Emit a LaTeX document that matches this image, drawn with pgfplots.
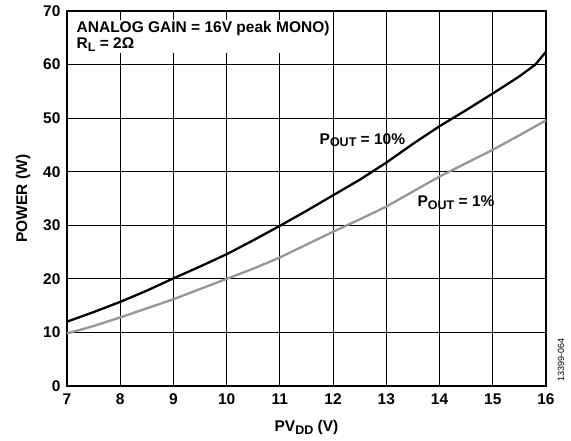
\documentclass[border=0pt]{standalone}
\usepackage{fontspec}
\setmainfont{Liberation Sans}
\usepackage{pgfplots}
\pgfplotsset{compat=1.18}
\definecolor{curvegray}{RGB}{150,150,150}
\newcommand{\sub}[1]{\raisebox{-0.35ex}{\fontsize{12.5}{13}\selectfont #1}}
\newcommand{\bigf}{\bfseries\fontsize{15.5}{18}\selectfont}
\begin{document}
\begin{tikzpicture}
\useasboundingbox (-67pt,-54pt) rectangle (504pt,386pt);
\begin{axis}[
  at={(0,0)}, anchor=south west,
  scale only axis, width=479pt, height=375pt,
  xmin=7, xmax=16, ymin=0, ymax=70,
  xtick={7,...,16}, ytick={0,10,...,70},
  grid=major,
  major grid style={black, line width=0.8pt},
  axis line style={black, line width=1.4pt},
  major tick length=0pt,
  /pgf/number format/assume math mode=true,
  tick label style={font=\bigf},
  xticklabel style={yshift=-4pt},
  yticklabel style={xshift=-3pt},
  label style={font=\bigf},
  xlabel={PV\sub{DD} (V)},
  ylabel={POWER (W)},
  xlabel style={yshift=-9pt},
  ylabel style={yshift=6pt},
  clip=false,
]
\addplot[black, line width=2.3pt] coordinates {
 (7,12.0) (7.5,13.8) (8,15.7) (8.5,17.8) (9,20.1) (9.5,22.3) (10,24.6) (10.5,27.2)
 (11,29.9) (11.5,32.7) (12,35.6) (12.5,38.5) (13,41.7) (13.5,45.2) (14,48.5)
 (14.5,51.5) (15,54.6) (15.5,57.8) (15.8,60.0) (16,62.4)};
\addplot[curvegray, line width=2.3pt] coordinates {
 (7,9.8) (7.5,11.2) (8,12.8) (8.5,14.5) (9,16.2) (9.5,18.1) (10,20.0) (10.5,21.9)
 (11,24.0) (11.5,26.4) (12,28.8) (12.5,31.1) (13,33.5) (13.5,36.3) (14,39.1)
 (14.5,41.6) (15,44.1) (15.5,46.8) (16,49.6)};
\node[font=\bigf] at (axis cs:12.55,45.9) {P\sub{OUT} = 10\%};
\node[font=\bigf] at (axis cs:14.31,34.2) {P\sub{OUT} = 1\%};
\node[anchor=north west, fill=white, inner sep=1.5pt, align=left,
      font=\bigf]
  at ([xshift=8pt,yshift=-9pt]rel axis cs:0,1) {ANALOG GAIN = 16V peak MONO)\\[-2pt]R\sub{L} = 2Ω};
\node[rotate=90, font=\fontsize{9}{10}\selectfont] at ([xshift=15pt]axis cs:16,4.9) {13399-064};
\end{axis}
\end{tikzpicture}
\end{document}
